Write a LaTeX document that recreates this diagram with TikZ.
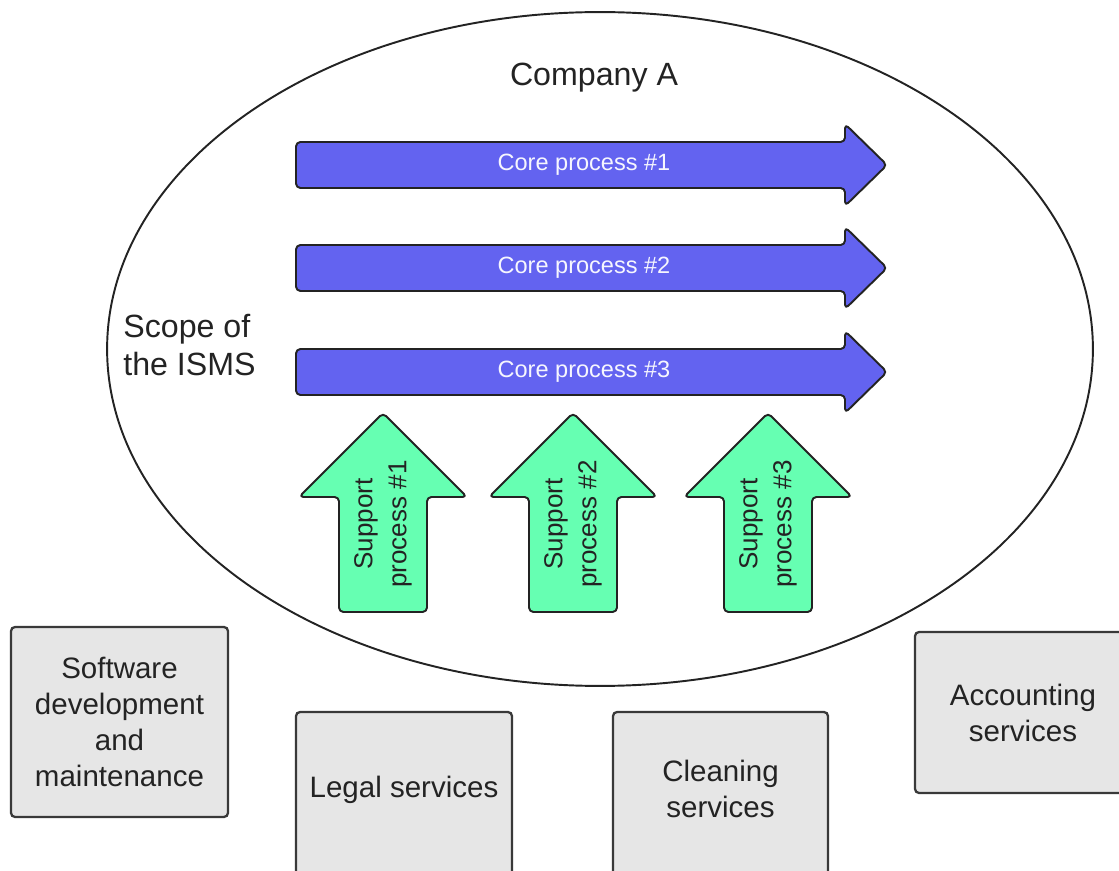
\documentclass[tikz,border=0pt]{standalone}
\usepackage{fontspec}
\setmainfont{Liberation Sans}
\usepackage{tikz}
\definecolor{coreblue}{RGB}{99,99,240}
\definecolor{supportgreen}{RGB}{102,255,178}
\definecolor{boxgray}{RGB}{230,230,230}
\definecolor{edgegray}{RGB}{35,35,35}
\tikzset{
	coreshape/.style={draw=edgegray,line width=1.1pt,fill=coreblue,rounded corners=2.5pt,line join=round},
	supportshape/.style={draw=edgegray,line width=1.1pt,fill=supportgreen,rounded corners=2.5pt,line join=round},
	coretext/.style={text=white!94!coreblue,font=\fontsize{13.4}{16}\selectfont,inner sep=0pt},
	supporttext/.style={text=edgegray,font=\fontsize{14.8}{19.3}\selectfont,align=center,rotate=90,inner sep=0pt},
	servicebox/.style={draw=edgegray!90,line width=1.3pt,fill=boxgray,rounded corners=0.08cm,align=center,
		text=edgegray,font=\fontsize{16.8}{20.5}\selectfont,inner sep=0pt}
}
\def\corearrow(#1){\draw[coreshape] (296,#1-23) -- (845,#1-23) -- (845,#1-41) -- (887,#1) -- (845,#1+41) -- (845,#1+23) -- (296,#1+23) -- cycle;}
\def\supportarrow(#1){\draw[supportshape] (#1-44,612) -- (#1-44,497) -- (#1-84,497) -- (#1,413) -- (#1+84,497) -- (#1+44,497) -- (#1+44,612) -- cycle;}

\begin{document}
\begin{tikzpicture}[x=0.02cm,y=-0.02cm]
	%CANVAS
	\clip (0,0) rectangle (1119,871);
	
	%ELLIPSE
	\draw[line width=1.1pt,draw=edgegray] (600,349) ellipse [x radius=9.86cm,y radius=6.74cm];
	\node[text=edgegray,font=\fontsize{18.3}{22}\selectfont] (company) at (594,78) {Company A};
	\node[text=edgegray,font=\fontsize{18.3}{21.8}\selectfont,align=left,anchor=west,inner sep=0pt] (scope) at (123,345) {Scope of\\the ISMS};
	
	%CORE PROCESSES
	\foreach \i/\y in {1/165,2/268,3/372} {
		\corearrow(\y)
		\node[coretext] (core\i) at (584,\y) {Core process \#\i};
	}
	
	%SUPPORT PROCESSES
	\foreach \i/\x in {1/383,2/573,3/768} {
		\supportarrow(\x)
		\node[supporttext] (support\i) at (\x,524) {Support\\process \#\i};
	}
	
	%SERVICES
	\node[servicebox,minimum width=4.34cm,minimum height=3.8cm] (software) at (119.5,722) {Software\\development\\and\\maintenance};
	\node[servicebox,minimum width=4.32cm,minimum height=3.6cm,text height=12pt,text depth=17pt] (legal) at (404,802) {Legal services};
	\node[servicebox,minimum width=4.3cm,minimum height=3.6cm,text height=32.5pt,text depth=14.8pt] (cleaning) at (720.5,802) {Cleaning\\services};
	\node[servicebox,minimum width=4.32cm,minimum height=3.22cm] (accounting) at (1023,712.5) {Accounting\\services};
\end{tikzpicture}
\end{document}
